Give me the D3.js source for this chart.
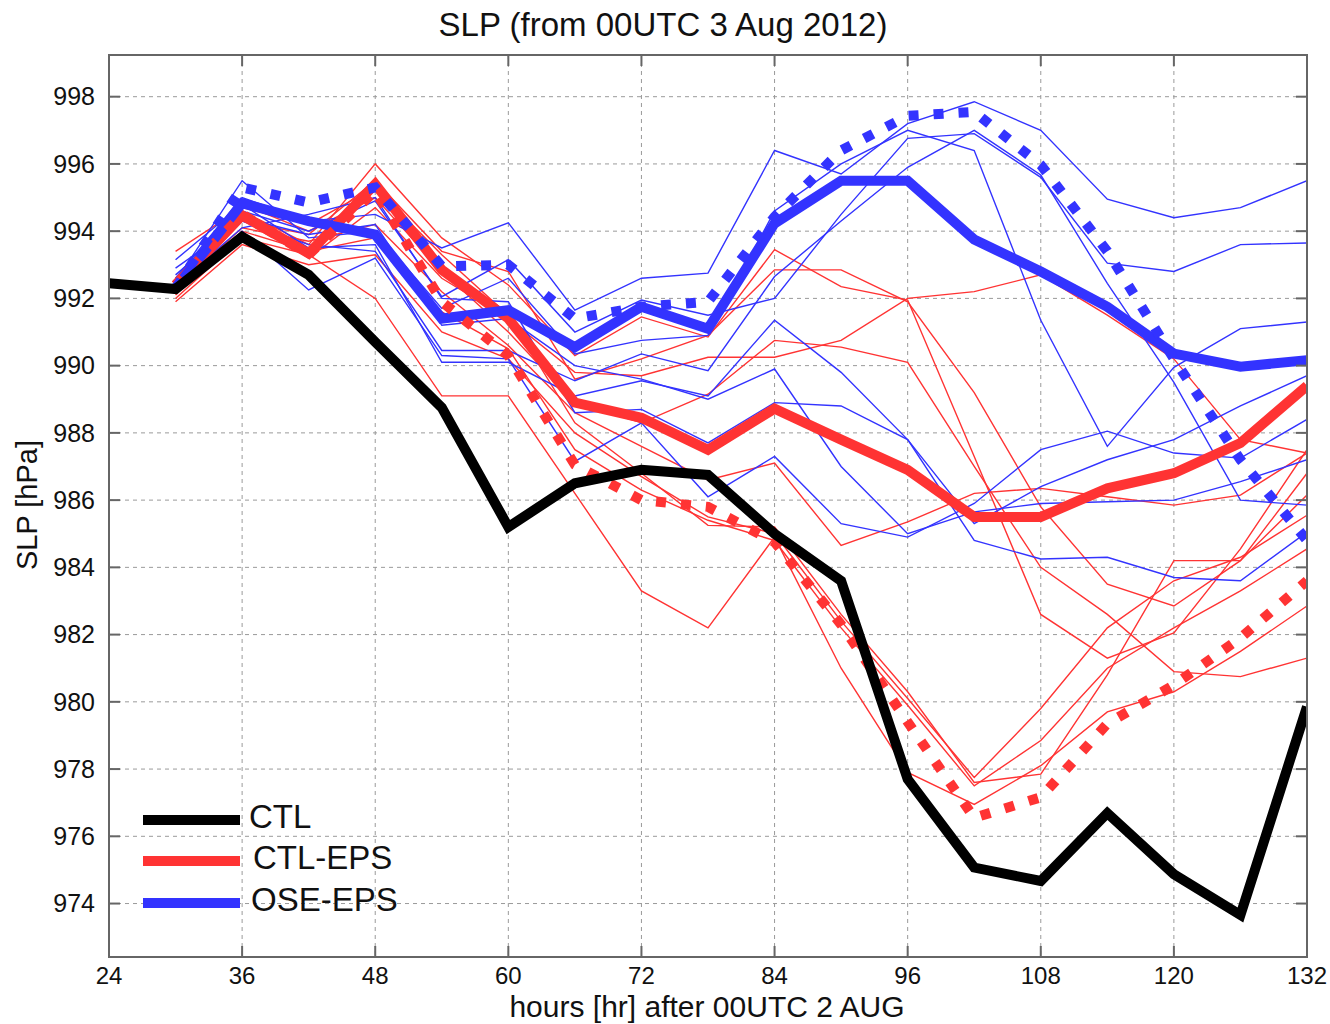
<!DOCTYPE html>
<html>
<head>
<meta charset="utf-8">
<script src="https://cdn.jsdelivr.net/npm/d3@7"></script>
<style>
  body { margin: 0; background: #fff; }
  svg { display: block; }
  text { font-family: "Liberation Sans", Arial, Helvetica, sans-serif; fill: #111; }
</style>
</head>
<body>
<svg id="chart" width="1330" height="1024"></svg>
<script>
// Forecast hours (CTL starts at 24 h, ensembles at 30 h)
const ctlHours = [24, 30, 36, 42, 48, 54, 60, 66, 72, 78, 84, 90, 96, 102, 108, 114, 120, 126, 132];
const epsHours = [30, 36, 42, 48, 54, 60, 66, 72, 78, 84, 90, 96, 102, 108, 114, 120, 126, 132];

const xTicks = [24, 36, 48, 60, 72, 84, 96, 108, 120, 132];
const yTicks = [974, 976, 978, 980, 982, 984, 986, 988, 990, 992, 994, 996, 998];

// Deterministic control run
const ctl = [992.45, 992.28, 993.83, 992.7, 990.7, 988.75, 985.2, 986.5, 986.9, 986.75,
             985.0, 983.6, 977.7, 975.07, 974.67, 976.69, 974.87, 973.66, 979.85];

// Ensemble means (thick solid)
const ctlEpsMean = [992.4, 994.47, 993.34, 995.4, 992.85, 991.4, 988.9, 988.45, 987.5, 988.72,
                    987.8, 986.9, 985.5, 985.5, 986.35, 986.8, 987.7, 989.4];
const oseEpsMean = [992.3, 994.83, 994.3, 993.9, 991.4, 991.65, 990.55, 991.75, 991.1, 994.23,
                    995.5, 995.5, 993.75, 992.8, 991.75, 990.36, 989.97, 990.16];

// Dotted thick curves
const ctlEpsDotted = [992.4, 994.5, 993.3, 995.2, 991.9, 990.3, 987.05, 986.0, 985.8, 984.75,
                      982.3, 979.4, 976.55, 977.16, 979.35, 980.5, 981.9, 983.6];
const oseEpsDotted = [992.3, 995.3, 994.85, 995.3, 992.95, 993.0, 991.4, 991.75, 991.9, 994.43,
                      996.4, 997.43, 997.55, 995.97, 993.4, 990.2, 987.2, 984.8];

// Individual ensemble members (thin)
const ctlEpsMembers = [
  [992.0, 993.8, 993.3, 992.0, 989.1, 989.1, 986.2, 983.3, 982.2, 984.9, 981.0, 977.9, 976.95, 978.1, 979.7, 980.3, 981.5, 982.85],
  [992.4, 994.6, 993.6, 996.0, 993.8, 992.4, 990.3, 991.45, 990.85, 993.45, 992.35, 991.95, 987.3, 982.6, 981.3, 982.05, 984.55, 987.5],
  [992.2, 994.3, 993.9, 995.5, 993.4, 992.8, 989.6, 990.2, 990.9, 992.85, 992.85, 991.9, 989.2, 985.8, 983.5, 982.85, 984.2, 986.8],
  [992.6, 994.5, 993.2, 994.7, 992.6, 991.4, 989.8, 989.7, 990.25, 990.25, 990.75, 992.0, 992.2, 992.7, 991.5, 990.2, 987.8, 987.4],
  [992.3, 994.1, 993.7, 994.2, 992.2, 990.6, 988.6, 987.6, 986.6, 987.1, 984.65, 985.35, 986.2, 986.35, 986.1, 985.85, 986.15, 987.4],
  [992.5, 994.8, 994.0, 995.0, 992.8, 991.0, 988.9, 988.3, 989.15, 990.75, 990.55, 990.1, 987.0, 984.0, 982.6, 980.9, 980.75, 981.3],
  [991.9, 993.6, 993.0, 993.3, 991.0, 990.2, 988.0, 986.7, 985.5, 985.0, 982.4, 980.1, 977.75, 979.8, 982.2, 983.6, 984.3, 985.55],
  [992.1, 994.0, 993.4, 993.8, 991.6, 990.5, 987.5, 986.3, 985.4, 984.8, 982.2, 979.9, 977.5, 978.85, 981.0, 982.2, 983.3, 984.55],
  [993.4, 994.7, 994.2, 995.3, 993.3, 991.5, 988.3, 986.8, 985.25, 985.2, 982.6, 980.3, 977.6, 977.85, 980.8, 984.2, 984.2, 986.15]
];
const oseEpsMembers = [
  [992.6, 995.0, 994.3, 994.5, 993.5, 994.25, 991.65, 992.6, 992.75, 996.4, 995.7, 997.2, 997.85, 997.0, 994.95, 994.4, 994.7, 995.5],
  [992.3, 994.6, 994.0, 994.9, 992.05, 993.15, 991.0, 991.95, 991.5, 992.0, 994.5, 996.76, 996.9, 995.6, 993.05, 992.8, 993.6, 993.65],
  [993.15, 994.8, 993.5, 993.6, 990.1, 990.1, 989.1, 989.55, 989.1, 991.35, 989.8, 987.8, 985.3, 986.4, 987.2, 987.8, 988.8, 989.7],
  [992.5, 995.5, 993.8, 994.0, 991.7, 992.6, 990.35, 990.75, 990.9, 994.6, 996.0, 997.0, 996.4, 991.35, 987.6, 989.95, 991.1, 991.3],
  [992.9, 994.3, 993.6, 993.4, 990.45, 990.45, 989.55, 990.35, 989.85, 992.65, 994.3, 995.9, 997.0, 995.67, 992.45, 989.5, 986.0, 985.85],
  [992.4, 994.1, 994.5, 995.0, 992.0, 991.9, 988.6, 988.7, 987.7, 988.9, 988.8, 987.8, 984.8, 984.25, 984.3, 983.7, 983.6, 985.05],
  [992.2, 994.0, 992.25, 993.2, 990.3, 990.2, 987.15, 988.3, 986.1, 987.3, 985.3, 984.9, 985.9, 987.5, 988.05, 987.4, 987.25, 988.4],
  [992.7, 994.4, 993.9, 994.2, 991.2, 991.4, 990.0, 989.6, 989.0, 989.9, 987.0, 985.0, 985.65, 985.9, 985.95, 986.0, 986.55, 987.2]
];

const legendItems = [
  { label: "CTL", color: "#000000" },
  { label: "CTL-EPS", color: "#ff3333" },
  { label: "OSE-EPS", color: "#3333ff" }
];

const RED = "#ff3333", BLUE = "#3333ff";

const svg = d3.select("#chart");
const plot = { left: 109, right: 1307, top: 55, bottom: 957 };

const x = d3.scaleLinear().domain([24, 132]).range([plot.left, plot.right]);
const y = d3.scaleLinear().domain([972.41, 999.24]).range([plot.bottom, plot.top]);

svg.append("defs").append("clipPath").attr("id", "plotClip")
  .append("rect")
  .attr("x", plot.left).attr("y", plot.top)
  .attr("width", plot.right - plot.left).attr("height", plot.bottom - plot.top);

// Grid
const grid = svg.append("g").attr("stroke", "#9a9a9a").attr("stroke-width", 1)
  .attr("stroke-dasharray", "4,4");
grid.selectAll(".gx").data(xTicks.slice(1, -1)).join("line")
  .attr("x1", d => x(d)).attr("x2", d => x(d))
  .attr("y1", plot.top).attr("y2", plot.bottom);
grid.selectAll(".gy").data(yTicks).join("line")
  .attr("x1", plot.left).attr("x2", plot.right)
  .attr("y1", d => y(d)).attr("y2", d => y(d));

// Series
const lineFor = hrs => d3.line().x((d, i) => x(hrs[i])).y(d => y(d));
const epsLine = lineFor(epsHours);
const ctlLine = lineFor(ctlHours);

const series = svg.append("g").attr("clip-path", "url(#plotClip)")
  .attr("fill", "none").attr("stroke-linejoin", "miter");

series.selectAll(".redMember").data(ctlEpsMembers).join("path")
  .attr("d", epsLine).attr("stroke", RED).attr("stroke-width", 1.4);
series.selectAll(".blueMember").data(oseEpsMembers).join("path")
  .attr("d", epsLine).attr("stroke", BLUE).attr("stroke-width", 1.4);

series.append("path").attr("d", epsLine(ctlEpsMean))
  .attr("stroke", RED).attr("stroke-width", 10);
series.append("path").attr("d", epsLine(oseEpsMean))
  .attr("stroke", BLUE).attr("stroke-width", 10);
series.append("path").attr("d", epsLine(ctlEpsDotted))
  .attr("stroke", RED).attr("stroke-width", 10).attr("stroke-dasharray", "10,15");
series.append("path").attr("d", epsLine(oseEpsDotted))
  .attr("stroke", BLUE).attr("stroke-width", 10).attr("stroke-dasharray", "10,15");
series.append("path").attr("d", ctlLine(ctl))
  .attr("stroke", "#000").attr("stroke-width", 10);

// Frame and inward ticks
const frame = svg.append("g").attr("stroke", "#666").attr("stroke-width", 2);
frame.append("rect").attr("x", plot.left).attr("y", plot.top)
  .attr("width", plot.right - plot.left).attr("height", plot.bottom - plot.top)
  .attr("fill", "none");
const TL = 11;
frame.selectAll(".tl").data(yTicks).join("line")
  .attr("x1", plot.left).attr("x2", plot.left + TL)
  .attr("y1", d => y(d)).attr("y2", d => y(d));
frame.selectAll(".tr").data(yTicks).join("line")
  .attr("x1", plot.right - TL).attr("x2", plot.right)
  .attr("y1", d => y(d)).attr("y2", d => y(d));
frame.selectAll(".tb").data(xTicks).join("line")
  .attr("x1", d => x(d)).attr("x2", d => x(d))
  .attr("y1", plot.bottom).attr("y2", plot.bottom - TL);
frame.selectAll(".tt").data(xTicks).join("line")
  .attr("x1", d => x(d)).attr("x2", d => x(d))
  .attr("y1", plot.top).attr("y2", plot.top + TL);

// Tick labels
svg.append("g").selectAll("text").data(yTicks).join("text")
  .attr("x", 95).attr("y", d => y(d)).attr("dy", "0.35em")
  .attr("text-anchor", "end").attr("font-size", 25)
  .text(d => d);
svg.append("g").selectAll("text").data(xTicks).join("text")
  .attr("x", d => x(d)).attr("y", 984)
  .attr("text-anchor", "middle").attr("font-size", 24)
  .text(d => d);

// Titles
svg.append("text").attr("x", 663).attr("y", 36).attr("text-anchor", "middle")
  .attr("font-size", 33).text("SLP (from 00UTC 3 Aug 2012)");
svg.append("text").attr("x", 707).attr("y", 1017).attr("text-anchor", "middle")
  .attr("font-size", 30).text("hours [hr] after 00UTC 2 AUG");
svg.append("text").attr("transform", "translate(37,505) rotate(-90)")
  .attr("text-anchor", "middle").attr("font-size", 29).text("SLP [hPa]");

// Legend
const legend = svg.append("g");
const legendRows = [820, 861, 903];
const legendTextX = [249, 253, 251];
legend.selectAll("line").data(legendItems).join("line")
  .attr("x1", 143).attr("x2", 240)
  .attr("y1", (d, i) => legendRows[i]).attr("y2", (d, i) => legendRows[i])
  .attr("stroke", d => d.color).attr("stroke-width", 10);
legend.selectAll("text").data(legendItems).join("text")
  .attr("x", (d, i) => legendTextX[i]).attr("y", (d, i) => legendRows[i] + 8)
  .attr("font-size", 33).text(d => d.label);
</script>
</body>
</html>
